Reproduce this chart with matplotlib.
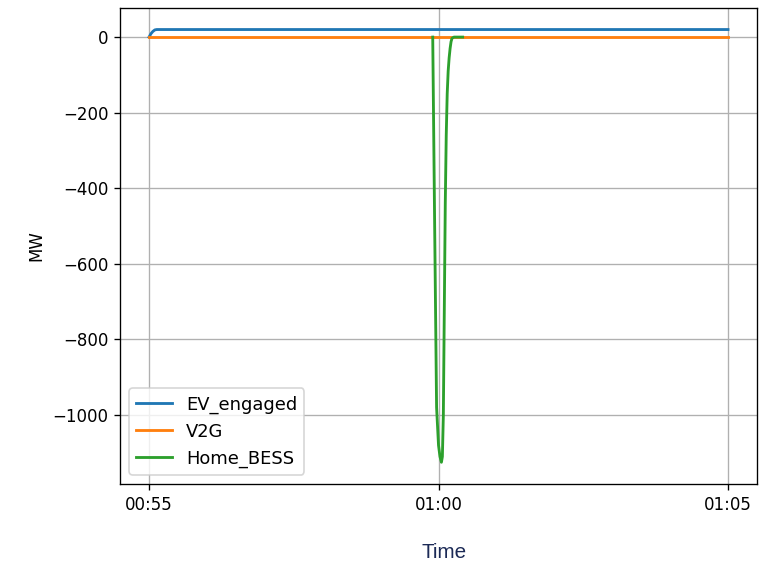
import matplotlib
matplotlib.use("Agg")
import matplotlib.pyplot as plt
import matplotlib.dates as mdates
import numpy as np
import pandas as pd

start = pd.Timestamp("2023-01-01 00:55:00")

# seconds after 00:55:00
ev_sec = [0, 2, 4, 6, 8, 600]
ev_val = [0, 9, 15, 19, 20, 20]

v2g_sec = [0, 600]
v2g_val = [0, 0]

bess_sec = [294, 296, 298, 300, 301.5, 303, 304, 305, 306, 307, 308, 309, 310, 311, 312, 313, 314, 316, 325]
bess_val = [0, -500, -980, -1080, -1110, -1125, -1110, -1000, -720, -440, -260, -150, -90, -55, -30, -12, -3, 0, 0]


def to_time(secs):
    return start + pd.to_timedelta(secs, unit="s")


# rendered at 120 dpi so everything comes out ~1.2x the default size
fig = plt.figure(figsize=(760 / 120, 564 / 120), dpi=120)
ax = fig.add_axes([0.158, 0.142, 0.838, 0.844])

ax.plot(to_time(ev_sec), ev_val, label="EV_engaged", lw=1.7)
ax.plot(to_time(v2g_sec), v2g_val, label="V2G", lw=1.7)
ax.plot(to_time(bess_sec), bess_val, label="Home_BESS", lw=1.7)

ax.set_xticks([to_time(0), to_time(300), to_time(600)])
ax.xaxis.set_major_formatter(mdates.DateFormatter("%H:%M"))
ax.set_ylabel("MW")
ax.grid(True)
ax.legend(loc="lower left", fontsize=10.7)

fig.text(444 / 760, 1 - 553 / 564, "Time", ha="center", va="center",
         color="#1c2a56", fontsize=12.4, family="Liberation Sans")

fig.savefig("out.png", dpi=120)
plt.close()
